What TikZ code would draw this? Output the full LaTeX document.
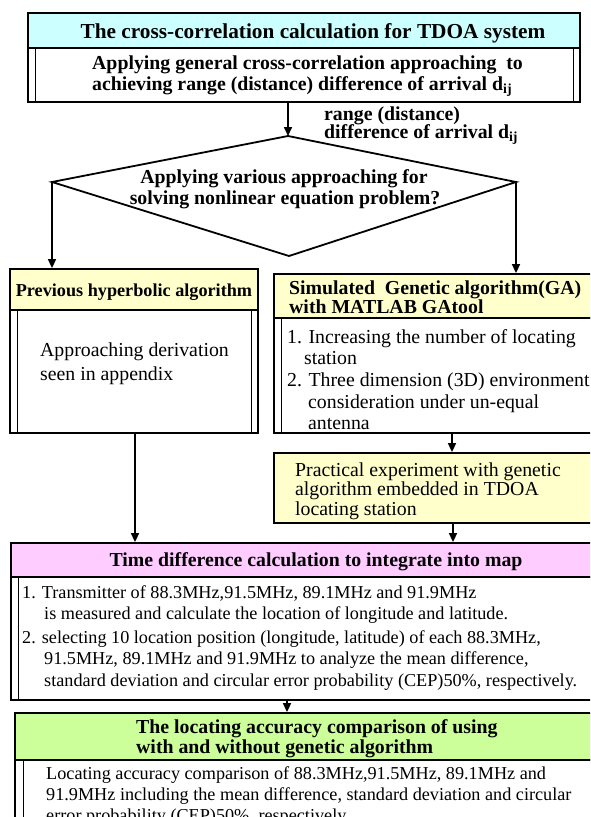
\documentclass[tikz,border=0pt]{standalone}
\usepackage{fontspec}
\setmainfont{Liberation Serif}
\usetikzlibrary{arrows.meta}
\definecolor{cyanfill}{HTML}{CCFFFF}
\definecolor{yellowfill}{HTML}{FFFFCC}
\definecolor{pinkfill}{HTML}{FFCCFF}
\definecolor{greenfill}{HTML}{CCFF99}
\begin{document}
\begin{tikzpicture}[x=1pt,y=-1pt,
  outline/.style={draw=black,line width=1.8pt},
  innerline/.style={draw=black,line width=0.9pt},
  arr/.style={draw=black,line width=1.6pt,-{Triangle[length=9pt,width=8pt]}},
  boxnode/.style={outline,inner sep=0pt,minimum width=#1},
  bw/.style={anchor=base west,inner sep=0pt},
  bc/.style={anchor=base,inner sep=0pt},
  titlefont/.style={font=\fontsize{21.3}{23}\bfseries\selectfont},
  boldfont/.style={font=\fontsize{19.8}{22}\bfseries\selectfont},
  smallbold/.style={font=\fontsize{18.2}{20}\bfseries\selectfont},
  bodyfont/.style={font=\fontsize{19.8}{22}\selectfont},
  smallfont/.style={font=\fontsize{18.2}{20}\selectfont}
]
\useasboundingbox (0,0) rectangle (590,817);
\clip (0,0) rectangle (590,817);
\fill[white] (0,0) rectangle (590,817);

% ---------- top box ----------
\node[boxnode=552pt,minimum height=35pt,fill=cyanfill] (topband) at (304,30.5) {};
\node[boxnode=552pt,minimum height=54pt,fill=white] (topbody) at (304,75) {};
\draw[innerline] (35,48) -- (35,102);
\draw[innerline] (573,48) -- (573,102);
\node[bc,titlefont] (toptitle) at (313,38) {The cross-correlation calculation for TDOA system};
\node[bw,boldfont] (topl1) at (92,69) {Applying general cross-correlation approaching\ \ to};
\node[bw,boldfont] (topl2) at (92,90) {achieving range (distance) difference of arrival d\textsubscript{ij}};

% ---------- diamond ----------
\coordinate (dT) at (288,136);
\coordinate (dR) at (516,182);
\coordinate (dB) at (289,256);
\coordinate (dL) at (52,182);
\draw[outline,line join=miter] (dT) -- (dR) -- (dB) -- (dL) -- cycle;
\node[bc,boldfont] (dtext1) at (284,183) {Applying various approaching for};
\node[bc,boldfont] (dtext2) at (285,204) {solving nonlinear equation problem?};

\draw[arr] (dT |- topbody.south) -- (dT);
\node[bw,boldfont] (lab1) at (324,120) {range (distance)};
\node[bw,boldfont] (lab2) at (324,138) {difference of arrival d\textsubscript{ij}};

% ---------- left box ----------
\node[boxnode=248pt,minimum height=41pt,fill=yellowfill] (lband) at (134,289.5) {};
\node[boxnode=248pt,minimum height=123pt,fill=white] (lbody) at (134,371.5) {};
\draw[innerline] (17,310) -- (17,433);
\draw[innerline] (251,310) -- (251,433);
\node[bc,smallbold] (ltitle) at (134,296) {Previous hyperbolic algorithm};
\node[bw,bodyfont] (lt1) at (40,356) {Approaching derivation};
\node[bw,bodyfont] (lt2) at (40,380) {seen in appendix};

% ---------- right box ----------
\node[boxnode=330pt,minimum height=44pt,fill=yellowfill] (rband) at (439,296) {};
\node[boxnode=330pt,minimum height=115pt,fill=white] (rbody) at (439,375.5) {};
\draw[innerline] (281,318) -- (281,433);
\node[bw,boldfont] (rt1) at (289,294) {Simulated\ \ Genetic algorithm(GA)};
\node[bw,boldfont] (rt2) at (289,313) {with MATLAB GAtool};
\node[bw,bodyfont] (ri1) at (287,343) {1. Increasing the number of locating};
\node[bw,bodyfont] (ri2) at (304,364) {station};
\node[bw,bodyfont] (ri3) at (287,386) {2. Three dimension (3D) environment};
\node[bw,bodyfont] (ri4) at (308,408) {consideration under un-equal};
\node[bw,bodyfont] (ri5) at (308,429) {antenna};

% ---------- practical box ----------
\node[boxnode=330pt,minimum height=70pt,fill=yellowfill] (prac) at (439,488) {};
\node[bw,bodyfont] (p1) at (295,476) {Practical experiment with genetic};
\node[bw,bodyfont] (p2) at (295,495) {algorithm embedded in TDOA};
\node[bw,bodyfont] (p3) at (295,515) {locating station};

% ---------- time difference box ----------
\node[boxnode=600pt,minimum height=34pt,fill=pinkfill] (tband) at (311,560) {};
\node[boxnode=600pt,minimum height=123pt,fill=white] (tbody) at (311,638.5) {};
\draw[innerline] (18,577) -- (18,700);
\node[bc,boldfont] (ttitle) at (316,566) {Time difference calculation to integrate into map};
\node[bw,smallfont] (tl1) at (22,598) {1. Transmitter of 88.3MHz,91.5MHz, 89.1MHz and 91.9MHz};
\node[bw,smallfont] (tl2) at (44,619) {is measured and calculate the location of longitude and latitude.};
\node[bw,smallfont] (tl3) at (22,643) {2. selecting 10 location position (longitude, latitude) of each 88.3MHz,};
\node[bw,smallfont] (tl4) at (44,664) {91.5MHz, 89.1MHz and 91.9MHz to analyze the mean difference,};
\node[bw,smallfont] (tl5) at (44,686) {standard deviation and circular error probability (CEP)50\%, respectively.};

% ---------- green box ----------
\node[boxnode=600pt,minimum height=47pt,fill=greenfill] (gband) at (315,736.5) {};
\node[boxnode=600pt,minimum height=80pt,fill=white] (gbody) at (315,800) {};
\draw[innerline] (23,760) -- (23,840);
\node[bw,boldfont] (gt1) at (136,733) {The locating accuracy comparison of using};
\node[bw,boldfont] (gt2) at (136,753) {with and without genetic algorithm};
\node[bw,smallfont] (gl1) at (46,779) {Locating accuracy comparison of 88.3MHz,91.5MHz, 89.1MHz and};
\node[bw,smallfont] (gl2) at (46,800) {91.9MHz including the mean difference, standard deviation and circular};
\node[bw,smallfont] (gl3) at (46,821) {error probability (CEP)50\%, respectively.};

% ---------- connectors ----------
\draw[arr] (dL) -- (dL |- lband.north);
\draw[arr] (dR) -- (dR |- rband.north);
\coordinate (pa) at (452,0);
\draw[arr] (pa |- rbody.south) -- (pa |- prac.north);
\coordinate (la) at (135,0);
\draw[arr] (la |- lbody.south) -- (la |- tband.north);
\coordinate (pb) at (453,0);
\draw[arr] (pb |- prac.south) -- (pb |- tband.north);
\coordinate (ga) at (287,0);
\draw[arr] (ga |- tbody.south) -- (ga |- gband.north);
\end{tikzpicture}
\end{document}
